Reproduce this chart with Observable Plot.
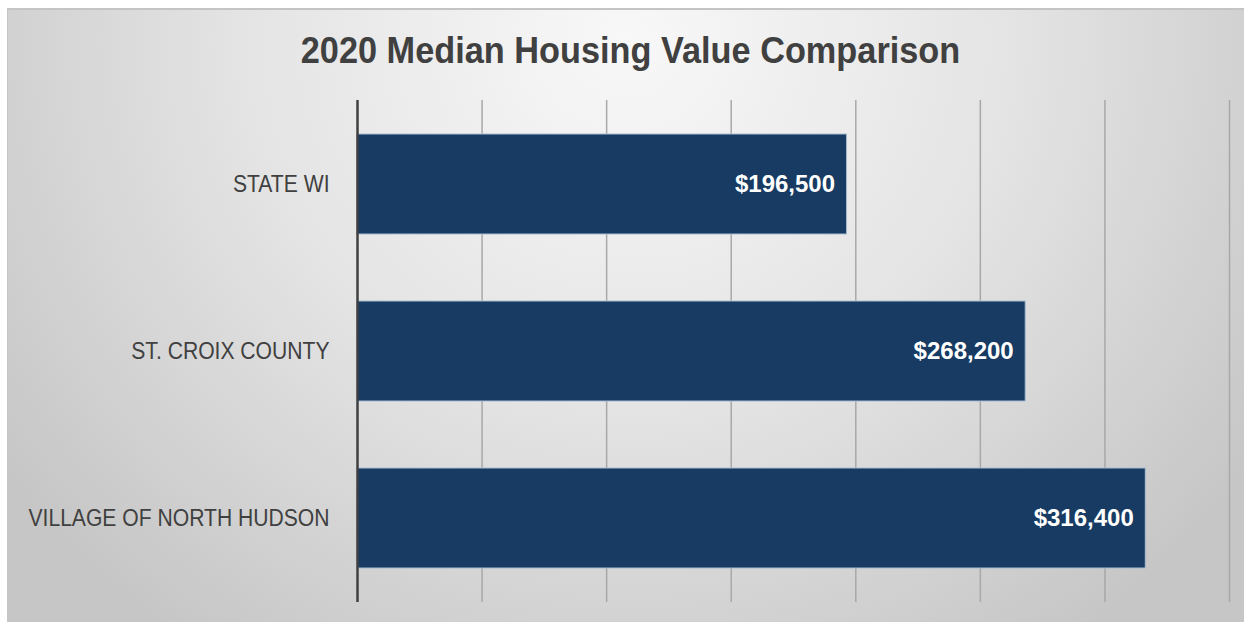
<!DOCTYPE html>
<html>
<head>
<meta charset="utf-8">
<script src="https://cdn.jsdelivr.net/npm/d3@7"></script>
<script src="https://cdn.jsdelivr.net/npm/@observablehq/plot@0.6"></script>
<style>
  html, body { margin: 0; padding: 0; background: #ffffff; }
  #frame {
    position: absolute; left: 7px; top: 8px; width: 1237px; height: 614px;
    border-top: 2px solid #c4c4c4; border-left: 1px solid #c4c4c4;
    box-sizing: border-box;
    background: radial-gradient(ellipse 62% 120% at 50% 5%, #f8f8f8 0%, #e4e4e4 50%, #c6c6c6 100%);
    overflow: hidden;
  }
  #title {
    position: absolute; left: 0; top: 20px; width: 1248px; text-align: center;
    font-family: "Liberation Sans", Arial, sans-serif;
    font-weight: 700; font-size: 37px; color: #404040; margin-left: -7px;
    transform: translateX(5px) scaleX(0.927); transform-origin: 631px 50%;
  }
  #chart { position: absolute; left: -1px; top: -2px; }
</style>
</head>
<body>
<div id="frame">
  <div id="title">2020 Median Housing Value Comparison</div>
  <div id="chart"></div>
</div>
<script>
const categories = ["STATE WI", "ST. CROIX COUNTY", "VILLAGE OF NORTH HUDSON"];
const values = [196500, 268200, 316400];
const valueLabels = ["$196,500", "$268,200", "$316,400"];
const xTicks = [0, 50000, 100000, 150000, 200000, 250000, 300000, 350000];

const data = categories.map((c, i) => ({category: c, value: values[i], label: valueLabels[i]}));

const chart = Plot.plot({
  width: 1237,
  height: 614,
  marginLeft: 350,
  marginRight: 15,
  marginTop: 92,
  marginBottom: 20,
  style: {background: "transparent", overflow: "visible"},
  x: {domain: [0, 350000], ticks: xTicks, axis: null},
  y: {domain: categories, paddingInner: 0.4, paddingOuter: 0.2, align: 0.5, label: null},
  marks: [
    Plot.ruleX(xTicks.slice(1), {stroke: "#a8a8a8", strokeWidth: 1.5}),
    Plot.barX(data, {y: "category", x: "value", fill: "#173b62", stroke: "#a9bdd3", strokeWidth: 1}),
    Plot.text(data, {
      y: "category", x: "value", text: "label", textAnchor: "end", dx: -12,
      fill: "#ffffff", fontWeight: "bold", fontSize: 24,
      fontFamily: "'Liberation Sans', Arial, sans-serif"
    }),
    Plot.ruleX([0], {stroke: "#404040", strokeWidth: 2.5}),
    Plot.axisY({
      tickSize: 0, tickPadding: 28, fontSize: 24,
      fontFamily: "'Liberation Sans', Arial, sans-serif",
      fill: "#404040", label: null
    })
  ]
});
d3.select(chart).selectAll("[aria-label='y-axis tick label'] text").each(function() {
  const t = this.getAttribute("transform") || "";
  this.setAttribute("transform", t + " scale(0.88,1)");
});
document.getElementById("chart").appendChild(chart);
</script>
</body>
</html>
